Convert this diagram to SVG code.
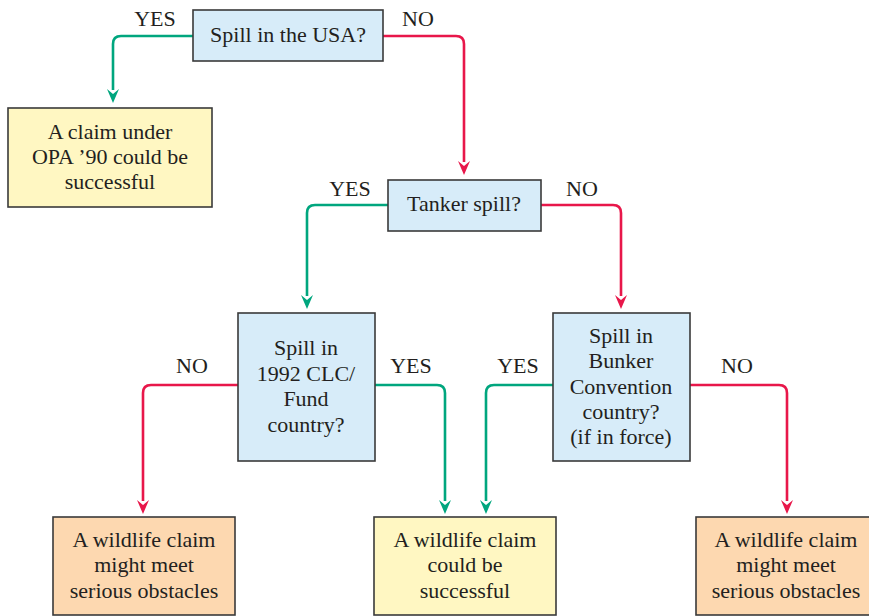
<svg xmlns="http://www.w3.org/2000/svg" width="869" height="616" viewBox="0 0 869 616">
  <style>
    .box { stroke: #3a3a3a; stroke-width: 1.6; }
    .q { fill: #d7ecf9; }
    .ok { fill: #fff7c2; }
    .bad { fill: #fdd8b0; }
    text { font-family: "Liberation Serif", "DejaVu Serif", "Times New Roman", serif; font-size: 22px; fill: #231f20; text-anchor: middle; }
    .yes { fill: none; stroke: #00a67e; stroke-width: 2.6; }
    .no { fill: none; stroke: #e8174a; stroke-width: 2.6; }
    .hg { fill: #00a67e; }
    .hr { fill: #e8174a; }
  </style>

  <g id="connectors">
    <path class="yes" d="M193,36 H121 Q113,36 113,44 V90"/>
    <path class="no" d="M383,36 H456 Q464,36 464,44 V162"/>
    <path class="yes" d="M388,205 H315 Q307,205 307,213 V296"/>
    <path class="no" d="M541,205 H613 Q621,205 621,213 V296"/>
    <path class="no" d="M238,385 H151 Q143,385 143,393 V501"/>
    <path class="yes" d="M375,385 H437 Q445,385 445,393 V501"/>
    <path class="yes" d="M553,385 H494 Q486,385 486,393 V501"/>
    <path class="no" d="M690,385 H779 Q787,385 787,393 V501"/>
    <path class="hg" d="M107,89 L113,94 L119,89 L113,103 z"/>
    <path class="hr" d="M458,161 L464,166 L470,161 L464,175 z"/>
    <path class="hg" d="M301,295 L307,300 L313,295 L307,309 z"/>
    <path class="hr" d="M615,295 L621,300 L627,295 L621,309 z"/>
    <path class="hr" d="M137,500 L143,505 L149,500 L143,514 z"/>
    <path class="hg" d="M439,500 L445,505 L451,500 L445,514 z"/>
    <path class="hg" d="M480,500 L486,505 L492,500 L486,514 z"/>
    <path class="hr" d="M781,500 L787,505 L793,500 L787,514 z"/>
  </g>
  <g id="labels">
    <text x="155" y="26">YES</text>
    <text x="418" y="26">NO</text>
    <text x="350" y="196">YES</text>
    <text x="582" y="196">NO</text>
    <text x="192" y="373">NO</text>
    <text x="411" y="373">YES</text>
    <text x="518" y="373">YES</text>
    <text x="737" y="373">NO</text>
  </g>

  <g id="usa">
    <rect class="box q" x="193" y="10" width="190" height="51"/>
    <text x="288" y="42">Spill in the USA?</text>
  </g>
  <g id="opa">
    <rect class="box ok" x="8" y="108" width="204" height="99"/>
    <text x="110" y="139">A claim under</text>
    <text x="110" y="164">OPA ’90 could be</text>
    <text x="110" y="189">successful</text>
  </g>
  <g id="tanker">
    <rect class="box q" x="388" y="180" width="153" height="51"/>
    <text x="464" y="211">Tanker spill?</text>
  </g>
  <g id="clc">
    <rect class="box q" x="238" y="313" width="137" height="148"/>
    <text x="306" y="355">Spill in</text>
    <text x="306" y="381">1992 CLC/</text>
    <text x="306" y="406">Fund</text>
    <text x="306" y="432">country?</text>
  </g>
  <g id="bunker">
    <rect class="box q" x="553" y="313" width="137" height="148"/>
    <text x="621" y="343">Spill in</text>
    <text x="621" y="368">Bunker</text>
    <text x="621" y="394">Convention</text>
    <text x="621" y="419">country?</text>
    <text x="621" y="444">(if in force)</text>
  </g>
  <g id="obstacles-left">
    <rect class="box bad" x="53" y="517" width="182" height="98"/>
    <text x="144" y="547">A wildlife claim</text>
    <text x="144" y="572">might meet</text>
    <text x="144" y="598">serious obstacles</text>
  </g>
  <g id="success">
    <rect class="box ok" x="374" y="517" width="182" height="98"/>
    <text x="465" y="547">A wildlife claim</text>
    <text x="465" y="572">could be</text>
    <text x="465" y="598">successful</text>
  </g>
  <g id="obstacles-right">
    <rect class="box bad" x="696" y="517" width="180" height="98"/>
    <text x="786" y="547">A wildlife claim</text>
    <text x="786" y="572">might meet</text>
    <text x="786" y="598">serious obstacles</text>
  </g>
</svg>
